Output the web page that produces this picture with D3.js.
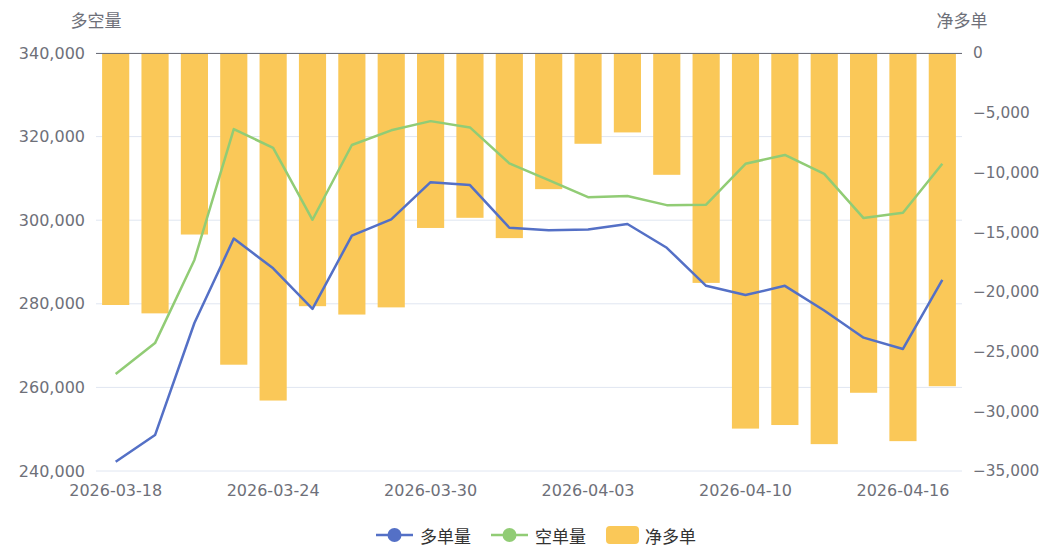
<!DOCTYPE html>
<html><head><meta charset="utf-8">
<script src="https://cdn.jsdelivr.net/npm/d3@7/dist/d3.min.js"></script>
<style>html,body{margin:0;padding:0;background:#fff;}svg{display:block;}</style>
</head><body>
<svg id="c" width="1039" height="546"></svg>
<script>
const dates = ["2026-03-18","2026-03-19","2026-03-20","2026-03-23","2026-03-24","2026-03-25","2026-03-26","2026-03-27","2026-03-30","2026-03-31","2026-04-01","2026-04-02","2026-04-03","2026-04-07","2026-04-08","2026-04-09","2026-04-10","2026-04-13","2026-04-14","2026-04-15","2026-04-16","2026-04-17"];
const longVol = [242200,248600,275400,295600,288500,278800,296300,300200,309100,308400,298200,297600,297800,299100,293400,284300,282100,284300,278400,271900,269200,285700];
const shortVol = [263200,270600,290500,321800,317300,300100,318000,321500,323700,322200,313600,309600,305500,305800,303600,303700,313500,315600,311100,300500,301800,313500];
const netLong = [-21100,-21800,-15200,-26100,-29100,-21200,-21900,-21300,-14650,-13800,-15500,-11400,-7600,-6650,-10200,-19250,-31450,-31150,-32750,-28450,-32500,-27900];
const leftTicks = [240000,260000,280000,300000,320000,340000];
const rightTicks = [0,-5000,-10000,-15000,-20000,-25000,-30000,-35000];
const xTickDates = ["2026-03-18","2026-03-24","2026-03-30","2026-04-03","2026-04-10","2026-04-16"];
const seriesNames = ["多单量","空单量","净多单"];
const colors = {long:"#5470C6", short:"#91CC75", net:"#FAC858"};

const svg = d3.select("#c");
const L = 96, R = 962, T = 53, B = 471;
const axisColor = "#6E7079";
const fmt = d3.format(",");

const x = d3.scaleBand().domain(dates).range([L, R]).padding(0);
const bw = x.bandwidth();
const cx = d => x(d) + bw/2;
const yL = d3.scaleLinear().domain([240000, 340000]).range([B, T]);
const yR = d3.scaleLinear().domain([-35000, 0]).range([B, T]);

// grid lines
svg.append("g").selectAll("line").data(leftTicks).join("line")
  .attr("x1", L).attr("x2", R).attr("y1", d => yL(d)).attr("y2", d => yL(d))
  .attr("stroke", "#E0E6F1").attr("stroke-width", 1);

// left axis labels
const gl = svg.append("g").attr("transform", `translate(${L},0)`)
  .call(d3.axisLeft(yL).tickValues(leftTicks).tickFormat(fmt).tickSize(0).tickPadding(11));
gl.select(".domain").remove();
gl.selectAll("text").attr("fill", axisColor).style("font-family", "DejaVu Sans").style("font-size", "16px");

// right axis labels
const gr = svg.append("g").attr("transform", `translate(${R},0)`)
  .call(d3.axisRight(yR).tickValues(rightTicks).tickFormat(fmt).tickSize(0).tickPadding(11));
gr.select(".domain").remove();
gr.selectAll("text").attr("fill", axisColor).style("font-family", "DejaVu Sans").style("font-size", "15.3px");

// bars
const barW = bw * 0.69;
svg.append("g").selectAll("rect").data(dates).join("rect")
  .attr("x", (d) => cx(d) - barW/2)
  .attr("y", yR(0))
  .attr("width", barW)
  .attr("height", (d, i) => yR(netLong[i]) - yR(0))
  .attr("fill", colors.net);

// top axis line (zero line of category axis)
svg.append("line").attr("x1", L).attr("x2", R).attr("y1", T + 0.5).attr("y2", T + 0.5)
  .attr("stroke", axisColor).attr("stroke-width", 1);

// x axis labels
const gx = svg.append("g").attr("transform", `translate(0,${B})`)
  .call(d3.axisBottom(x).tickValues(xTickDates).tickSize(0).tickPadding(14));
gx.select(".domain").remove();
gx.selectAll("text").attr("fill", axisColor).style("font-family", "DejaVu Sans").style("font-size", "16px");

// lines
const lineL = d3.line().x((d, i) => cx(dates[i])).y(d => yL(d));
svg.append("path").datum(longVol).attr("d", lineL).attr("fill", "none")
  .attr("stroke", colors.long).attr("stroke-width", 2.5).attr("stroke-linejoin", "round");
svg.append("path").datum(shortVol).attr("d", lineL).attr("fill", "none")
  .attr("stroke", colors.short).attr("stroke-width", 2.5).attr("stroke-linejoin", "round");

// axis titles
const cjk = "'Noto Sans CJK SC', 'Noto Sans', sans-serif";
svg.append("text").attr("x", L).attr("y", 27).attr("text-anchor", "middle")
  .attr("fill", axisColor).style("font-family", cjk).style("font-size", "17px").text("多空量");
svg.append("text").attr("x", R).attr("y", 27).attr("text-anchor", "middle")
  .attr("fill", axisColor).style("font-family", cjk).style("font-size", "17px").text("净多单");

// legend
const ly = 535;
const leg = svg.append("g");
const items = [
  {name: seriesNames[0], color: colors.long, type: "line", x: 376},
  {name: seriesNames[1], color: colors.short, type: "line", x: 491},
  {name: seriesNames[2], color: colors.net, type: "rect", x: 606}
];
items.forEach(it => {
  if (it.type === "line") {
    leg.append("line").attr("x1", it.x).attr("x2", it.x + 37).attr("y1", ly).attr("y2", ly)
      .attr("stroke", it.color).attr("stroke-width", 2.5);
    leg.append("circle").attr("cx", it.x + 18.5).attr("cy", ly).attr("r", 7).attr("fill", it.color);
    leg.append("text").attr("x", it.x + 44).attr("y", ly).attr("dominant-baseline", "central")
      .attr("fill", "#333").style("font-family", cjk).style("font-size", "17px").text(it.name);
  } else {
    leg.append("rect").attr("x", it.x).attr("y", ly - 9).attr("width", 33).attr("height", 18)
      .attr("rx", 4).attr("fill", it.color);
    leg.append("text").attr("x", it.x + 39).attr("y", ly).attr("dominant-baseline", "central")
      .attr("fill", "#333").style("font-family", cjk).style("font-size", "17px").text(it.name);
  }
});
</script>
</body></html>
